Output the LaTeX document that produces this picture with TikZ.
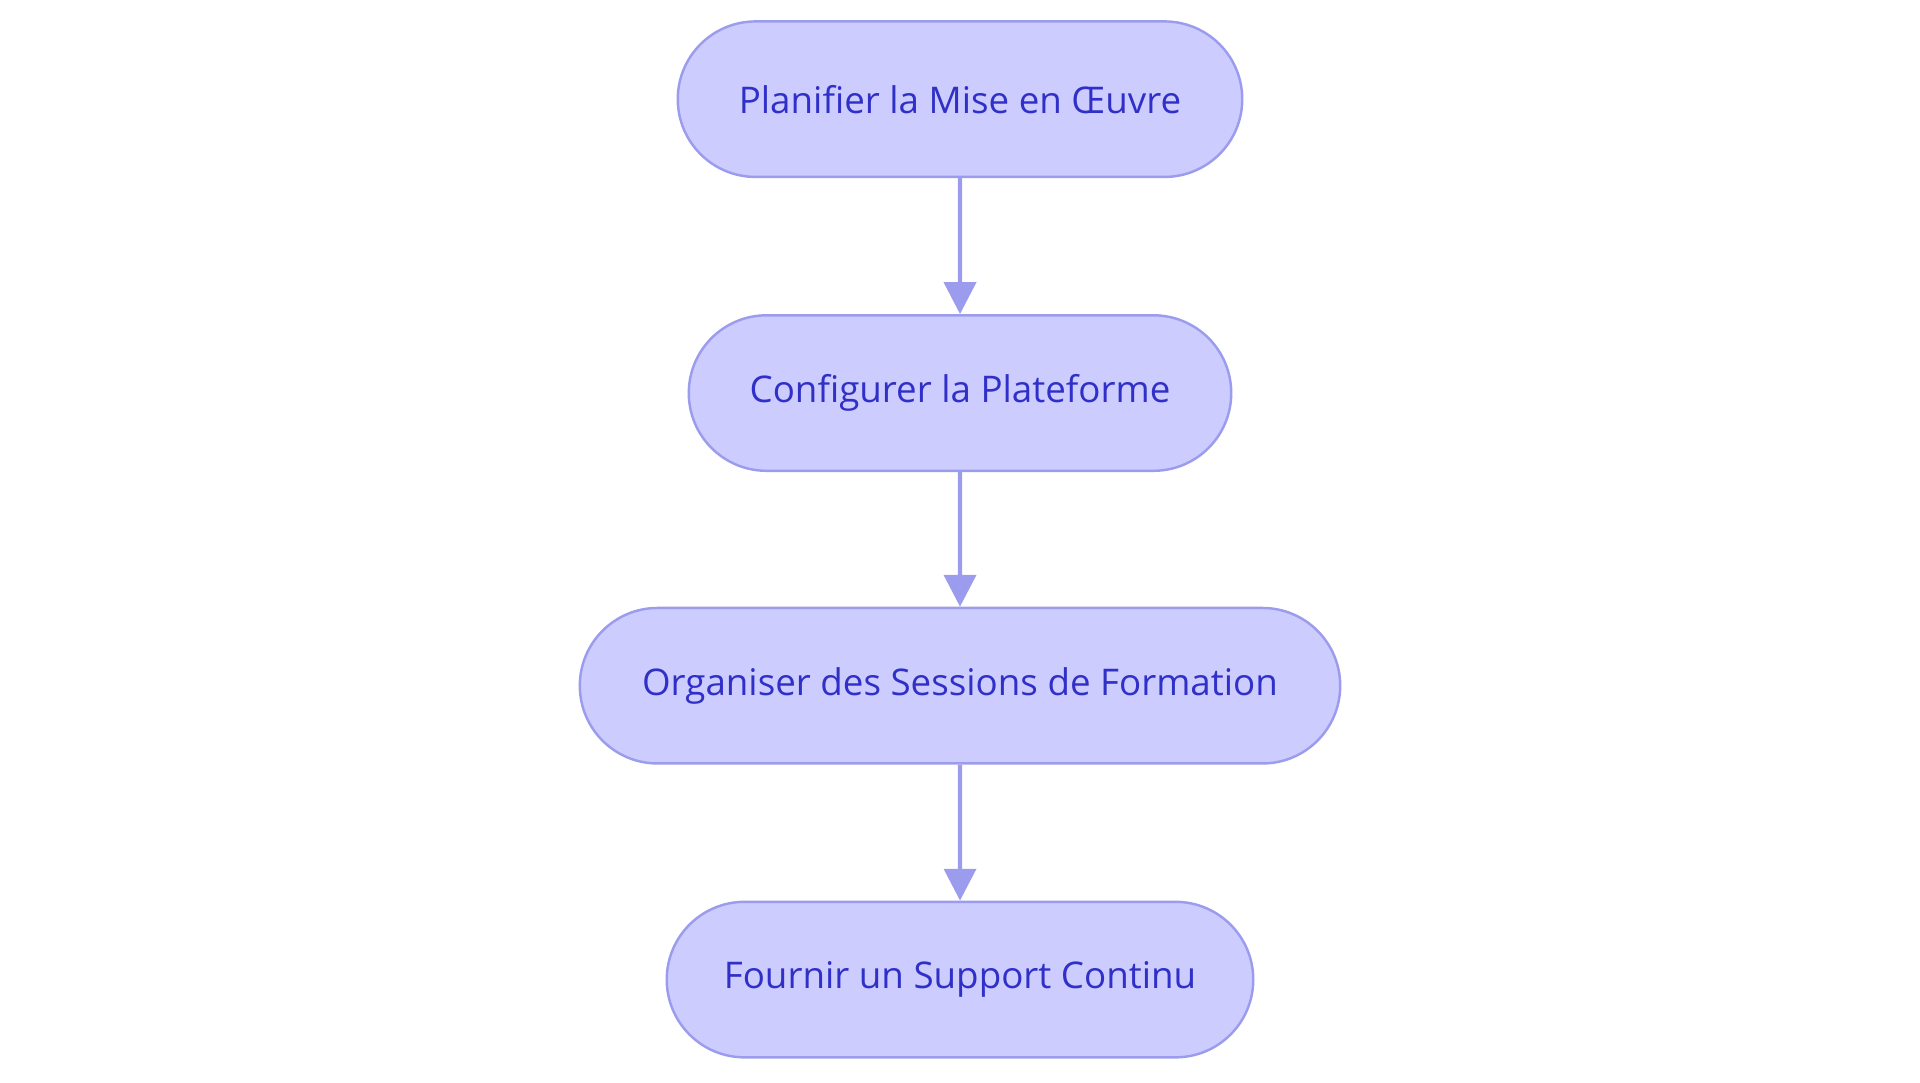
\documentclass[tikz,border=0pt]{standalone}
\usepackage{fontspec}
\setmainfont{Open Sans}
\usetikzlibrary{arrows.meta,shapes.misc}
\definecolor{nfill}{HTML}{CCCCFF}
\definecolor{nline}{HTML}{9C9CEE}
\definecolor{ntext}{HTML}{3030C8}
\begin{document}
\begin{tikzpicture}[x=1pt,y=1pt,
  box/.style={rounded rectangle, draw=nline, line width=2pt, fill=nfill, text=ntext,
    font=\fontsize{30}{36}\selectfont, minimum height=127pt, inner sep=0pt},
  arr/.style={draw=nline, line width=3.5pt, -{Triangle[length=26pt,width=26pt]}}]
\useasboundingbox (0,0) rectangle (1568,884);
\node[box, minimum width=461pt] (a) at (784,803) {Planifier la Mise en Œuvre};
\node[box, minimum width=443pt] (b) at (784,563) {Configurer la Plateforme};
\node[box, minimum width=621pt] (c) at (784,324) {Organiser des Sessions de Formation};
\node[box, minimum width=479pt] (d) at (784,84) {Fournir un Support Continu};
\draw[arr] (a) -- (b);
\draw[arr] (b) -- (c);
\draw[arr] (c) -- (d);
\end{tikzpicture}
\end{document}
